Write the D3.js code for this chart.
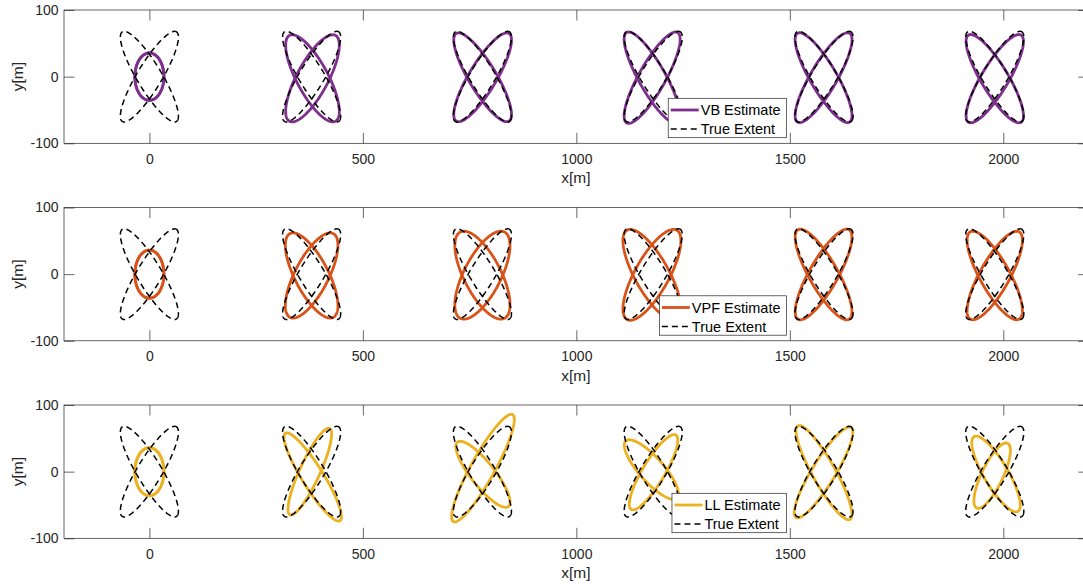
<!DOCTYPE html>
<html>
<head>
<meta charset="utf-8">
<script src="https://cdn.jsdelivr.net/npm/d3@7"></script>
<style>
  html, body { margin: 0; padding: 0; background: #fff; }
  svg { display: block; font-family: "Liberation Sans", Arial, Helvetica, sans-serif; }
</style>
</head>
<body>
<svg id="fig" width="1083" height="587"></svg>
<script>
// Snapshot positions of the extended target along x [m]
const snapshotX = [0, 380, 780, 1180, 1580, 1980];

// True extent: two crossing ellipses [semi-major, semi-minor, angle deg]
const trueExtent = [
  [93, 24.5, 45],
  [93, 24.5, -45]
];

// Estimated ellipses per snapshot: [cx, cy, semi-major, semi-minor, angle deg]
const vbEstimate = [
  [[0, 0, 35.5, 34, 90], [0, 0, 35.5, 34, 90]],
  [[382, -2.5, 85, 31.5, 46.5], [382, -2.5, 85, 31.5, -46.5]],
  [[780.5, -1, 91, 27, 44.5], [780.5, -1, 91, 27, -44.5]],
  [[1177.5, -1.5, 91, 26.8, 46.5], [1177.5, -1.5, 91, 26.8, -46.5]],
  [[1579, -1.5, 91, 26.3, 45.4], [1579, -1.5, 91, 26.3, -45.4]],
  [[1980, -3, 90.5, 26.6, 44.5], [1980, -3, 90.5, 26.6, -44.5]]
];

const vpfEstimate = [
  [[0, 0, 36, 34, 90], [0, 0, 36, 34, 90]],
  [[380, -2, 82, 33.9, 46.5], [380, -2, 82, 33.9, -46.5]],
  [[780, -1.5, 84.4, 37.4, 45.9], [780, -1.5, 84.4, 37.4, -45.9]],
  [[1177, -1, 90, 34, 45.2], [1177, -1, 90, 34, -45.2]],
  [[1579, -0.5, 90.7, 28.5, 45.8], [1579, -0.5, 90.7, 28.5, -45.8]],
  [[1980, -2, 87.9, 29.7, 45.9], [1980, -2, 87.9, 29.7, -45.9]]
];

const llEstimate = [
  [[0, 0, 36, 34, 90], [0, 0, 36, 34, 90]],
  [[382.6, -8, 92, 21, -44.5], [375.7, 0, 80, 21, 52.9]],
  [[781.3, -4, 77.5, 22, -36.7], [781.3, 5.3, 106.5, 24, 48]],
  [[1175.7, 3.2, 74.4, 22, -33.2], [1180.8, -0.8, 77, 22, 44.8]],
  [[1580, -1.5, 93.6, 23, -47.5], [1579, -1.2, 93.9, 23, 44.8]],
  [[1983, -3.5, 76.7, 24, -45], [1973.9, -6, 61.2, 22, 50.2]]
];

const methodNames = ["VB Estimate", "VPF Estimate", "LL Estimate"];
const methodColors = ["#7E2F8E", "#D95319", "#EDB120"];
const trueLabel = "True Extent";

const xTicks = [0, 500, 1000, 1500, 2000];
const yTicks = [-100, 0, 100];
const xDomain = [-200, 2200];
const yDomain = [-100, 100];

// ---- layout ----
const axLeft = 64, axRight = 1088.7, axHeight = 133.3;
const panelTops = [10, 207.5, 405];
const axisColor = "#262626";
const tickLen = 10.5;
const tickText = d => String(d);   // plain hyphen-minus for negatives

const svg = d3.select("#fig");
const x = d3.scaleLinear().domain(xDomain).range([axLeft, axRight]);

function ellipsePoints(cx, cy, a, b, deg) {
  const t = deg * Math.PI / 180;
  return d3.range(0, 181).map(i => {
    const u = 2 * Math.PI * i / 180;
    const ex = a * Math.cos(u), ey = b * Math.sin(u);
    return [cx + ex * Math.cos(t) - ey * Math.sin(t),
            cy + ex * Math.sin(t) + ey * Math.cos(t)];
  });
}

const estimates = [vbEstimate, vpfEstimate, llEstimate];

estimates.forEach((est, k) => {
  const top = panelTops[k];
  const y = d3.scaleLinear().domain(yDomain).range([top + axHeight, top]);
  const line = d3.line().x(d => x(d[0])).y(d => y(d[1]));
  const g = svg.append("g");

  // clip to the axes box
  const clipId = "clip" + k;
  svg.append("clipPath").attr("id", clipId)
    .append("rect").attr("x", axLeft).attr("y", top)
    .attr("width", axRight - axLeft).attr("height", axHeight);

  // axes: ticks inside on all four sides
  const bottomAx = d3.axisBottom(x).tickValues(xTicks).tickSizeInner(-tickLen)
    .tickSizeOuter(0).tickPadding(10.5).tickFormat(tickText);
  const topAx = d3.axisTop(x).tickValues(xTicks).tickSizeInner(-tickLen)
    .tickSizeOuter(0).tickFormat("");
  const leftAx = d3.axisLeft(y).tickValues(yTicks).tickSizeInner(-tickLen)
    .tickSizeOuter(0).tickPadding(5.5).tickFormat(tickText);
  const rightAx = d3.axisRight(y).tickValues(yTicks).tickSizeInner(-tickLen)
    .tickSizeOuter(0).tickFormat("");

  const styleAxis = sel => {
    sel.select(".domain").remove();
    sel.selectAll("line").attr("stroke", axisColor).attr("stroke-width", 0.7);
    sel.selectAll("text").attr("fill", axisColor).style("font-size", "14px")
      .style("font-family", "'Liberation Sans', Arial, sans-serif");
  };
  g.append("g").attr("transform", `translate(0,${top + axHeight})`).call(bottomAx).call(styleAxis);
  g.append("g").attr("transform", `translate(0,${top})`).call(topAx).call(styleAxis);
  g.append("g").attr("transform", `translate(${axLeft},0)`).call(leftAx).call(styleAxis);
  g.append("g").attr("transform", `translate(${axRight},0)`).call(rightAx).call(styleAxis);

  g.append("rect").attr("x", axLeft).attr("y", top)
    .attr("width", axRight - axLeft).attr("height", axHeight)
    .attr("fill", "none").attr("stroke", axisColor).attr("stroke-width", 0.7);

  const plot = g.append("g").attr("clip-path", `url(#${clipId})`);

  // estimated extents
  est.forEach(pair => {
    pair.forEach(e => {
      plot.append("path")
        .attr("d", line(ellipsePoints(e[0], e[1], e[2], e[3], e[4])))
        .attr("fill", "none").attr("stroke", methodColors[k])
        .attr("stroke-width", 2.8).attr("stroke-linejoin", "round");
    });
  });

  // true extents
  snapshotX.forEach(cx => {
    trueExtent.forEach(te => {
      plot.append("path")
        .attr("d", line(ellipsePoints(cx, 0, te[0], te[1], te[2])))
        .attr("fill", "none").attr("stroke", "#000")
        .attr("stroke-width", 1.5).attr("stroke-dasharray", "6,4");
    });
  });

  // axis labels
  g.append("text").attr("x", (axLeft + axRight) / 2 - 0.5).attr("y", top + axHeight + 40)
    .attr("text-anchor", "middle").attr("fill", axisColor)
    .style("font-size", "15.5px").text("x[m]");
  g.append("text")
    .attr("transform", `translate(23.4,${top + axHeight / 2}) rotate(-90)`)
    .attr("text-anchor", "middle").attr("fill", axisColor)
    .style("font-size", "15.5px").text("y[m]");

  // legend
  const lg = g.append("g");
  const legRight = 786.5, legTop = top + 88.3, legH = 39.4;
  const box = lg.append("rect").attr("y", legTop).attr("height", legH)
    .attr("fill", "#fff").attr("stroke", axisColor).attr("stroke-width", 0.7);
  const labels = [methodNames[k], trueLabel];
  const texts = labels.map((lab, i) => lg.append("text")
    .attr("y", legTop + 11.7 + i * 19).attr("dy", "0.35em")
    .attr("fill", "#000").style("font-size", "14.5px").text(lab));
  const tw = d3.max(texts, t => t.node().getComputedTextLength());
  const legW = 2.5 + 28 + 2 + tw + 6;
  const legLeft = legRight - legW;
  box.attr("x", legLeft).attr("width", legW);
  texts.forEach(t => t.attr("x", legLeft + 2.5 + 28 + 2));
  lg.append("line").attr("x1", legLeft + 2.5).attr("x2", legLeft + 30.5)
    .attr("y1", legTop + 11.7).attr("y2", legTop + 11.7)
    .attr("stroke", methodColors[k]).attr("stroke-width", 2.8);
  lg.append("line").attr("x1", legLeft + 2.5).attr("x2", legLeft + 30.5)
    .attr("y1", legTop + 30.7).attr("y2", legTop + 30.7)
    .attr("stroke", "#000").attr("stroke-width", 1.5).attr("stroke-dasharray", "6,4");
});
</script>
</body>
</html>
